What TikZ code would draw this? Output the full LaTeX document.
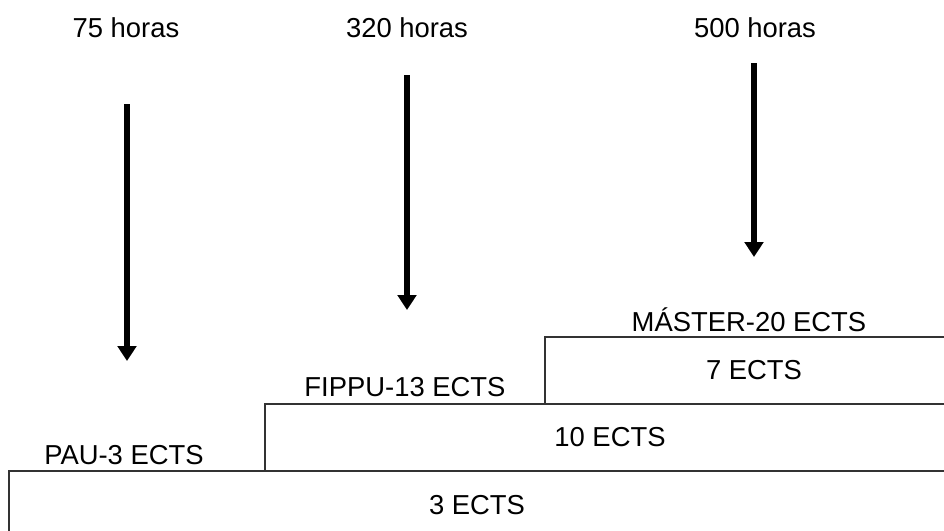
\documentclass[tikz,border=0pt]{standalone}
\usepackage{fontspec}
\setmainfont{Liberation Sans}
\usetikzlibrary{arrows.meta}

\begin{document}
\begin{tikzpicture}[x=0.02cm,y=-0.02cm,
        flecha/.style={-{Triangle[length=0.3cm,width=0.37cm]},line width=3.7pt},
        caja/.style={line width=0.6pt,draw=black!80},
        rotulo/.style={font=\fontsize{15.6}{18}\selectfont,inner sep=0pt}]
        \useasboundingbox (0,0) rectangle (944,531);
        \clip (0,0) rectangle (944,531);

        % escalones
        \draw[caja](9,540)--(9,471)--(960,471);
        \draw[caja](265,471)--(265,404)--(960,404);
        \draw[caja](545,404)--(545,337)--(960,337);

        \node[rotulo](pau) at (124,455){PAU-3 ECTS};
        \node[rotulo](fippu) at (405,387){FIPPU-13 ECTS};
        \node[rotulo](master) at (749,320){MÁSTER-20 ECTS};
        \node[rotulo](e3) at (477,505){3 ECTS};
        \node[rotulo](e10) at (610,437){10 ECTS};
        \node[rotulo](e7) at (754,370){7 ECTS};

        % horas
        \node[rotulo](h75) at (126,28){75 horas};
        \node[rotulo](h320) at (407,28){320 horas};
        \node[rotulo](h500) at (755,28){500 horas};

        \coordinate (a75) at (127,104);
        \coordinate (b75) at (127,361);
        \coordinate (a320) at (407,75);
        \coordinate (b320) at (407,310);
        \coordinate (a500) at (754,63);
        \coordinate (b500) at (754,257);

        \draw[flecha](a75)--(b75);
        \draw[flecha](a320)--(b320);
        \draw[flecha](a500)--(b500);
\end{tikzpicture}
\end{document}
